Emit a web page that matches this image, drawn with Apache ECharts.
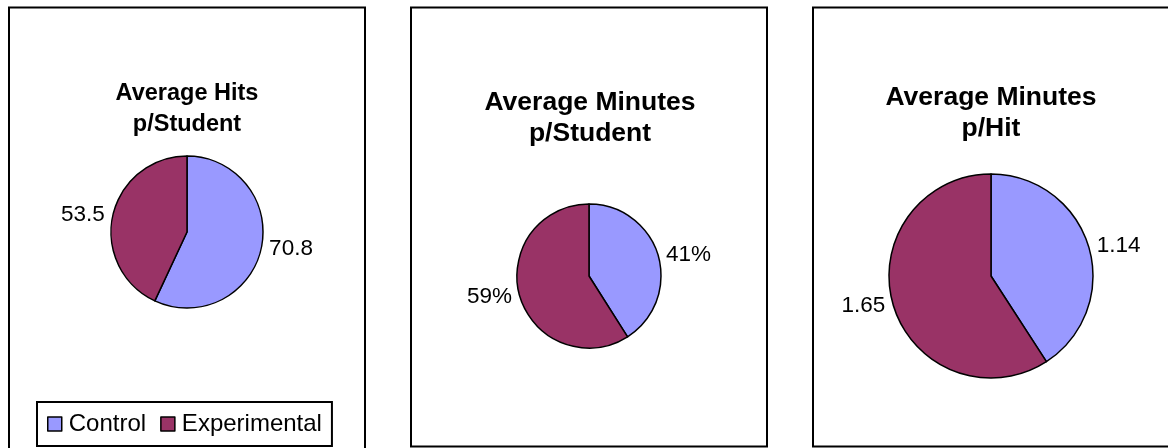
<!DOCTYPE html>
<html>
<head>
<meta charset="utf-8">
<script src="https://cdn.jsdelivr.net/npm/echarts@6/dist/echarts.min.js"></script>
<style>
    html, body { margin: 0; padding: 0; background: #fff; }
    #chart { width: 1168px; height: 448px; }
</style>
</head>
<body>
<div id="chart"></div>
<script>
// data
const categories = ["Control", "Experimental"];
const hitsPerStudent = [70.8, 53.5];
const minutesPerStudentPct = [41, 59];
const minutesPerHit = [1.14, 1.65];
const titles = ["Average Hits\np/Student", "Average Minutes\np/Student", "Average Minutes\np/Hit"];

const colors = ["#9999FF", "#993366"];
const font = "'Liberation Sans', Arial, sans-serif";

function toData(values) {
    return categories.map((name, i) => ({ name: name, value: values[i] }));
}

function pieSeries(values, center, radius, formatter) {
    return {
        type: "pie",
        center: center,
        radius: radius,
        startAngle: 90,
        clockwise: true,
        avoidLabelOverlap: false,
        silent: true,
        itemStyle: {
            borderColor: "#000",
            borderWidth: 1.5,
        },
        label: {
            show: true,
            position: "outside",
            formatter: formatter,
            color: "#000",
            fontFamily: font,
            fontSize: 22.5,
            distanceToLabelLine: 5,
        },
        labelLine: {
            show: false,
            length: 3,
            length2: 0,
        },
        emphasis: { disabled: true },
        data: toData(values),
    };
}

function title(text, x, y, size) {
    return {
        text: text,
        left: x,
        top: y,
        textAlign: "center",
        padding: 0,
        textStyle: {
            color: "#000",
            fontFamily: font,
            fontWeight: "bold",
            fontSize: size,
            lineHeight: 31,
        },
    };
}

function panel(x, y, w, h) {
    return {
        type: "rect",
        shape: { x: x, y: y, width: w, height: h },
        style: { fill: "none", stroke: "#000", lineWidth: 2 },
        silent: true,
    };
}

let myChart = echarts.init(document.getElementById("chart"));
myChart.setOption({
    backgroundColor: "#fff",
    animation: false,
    color: colors,
    title: [
        title(titles[0], 187, 78, 23.5),
        title(titles[1], 590, 87, 26.5),
        title(titles[2], 991, 82, 26.5),
    ],
    legend: {
        data: categories,
        left: 37,
        top: 402,
        icon: "rect",
        itemWidth: 14,
        itemHeight: 14,
        itemGap: 14,
        padding: [10, 10],
        borderColor: "#000",
        borderWidth: 2,
        selectedMode: false,
        itemStyle: { borderColor: "#000", borderWidth: 1.5 },
        textStyle: {
            color: "#000",
            fontFamily: font,
            fontSize: 24,
            padding: [0, 0, 0, 2],
        },
    },
    graphic: [
        panel(9, 7.5, 356, 460),
        panel(411, 7.5, 356, 439),
        panel(813, 7.5, 370, 439),
    ],
    series: [
        pieSeries(hitsPerStudent, [187, 232], 76, "{c}"),
        pieSeries(minutesPerStudentPct, [589, 276], 72, "{c}%"),
        pieSeries(minutesPerHit, [991, 276], 102, "{c}"),
    ],
});
</script>
</body>
</html>
